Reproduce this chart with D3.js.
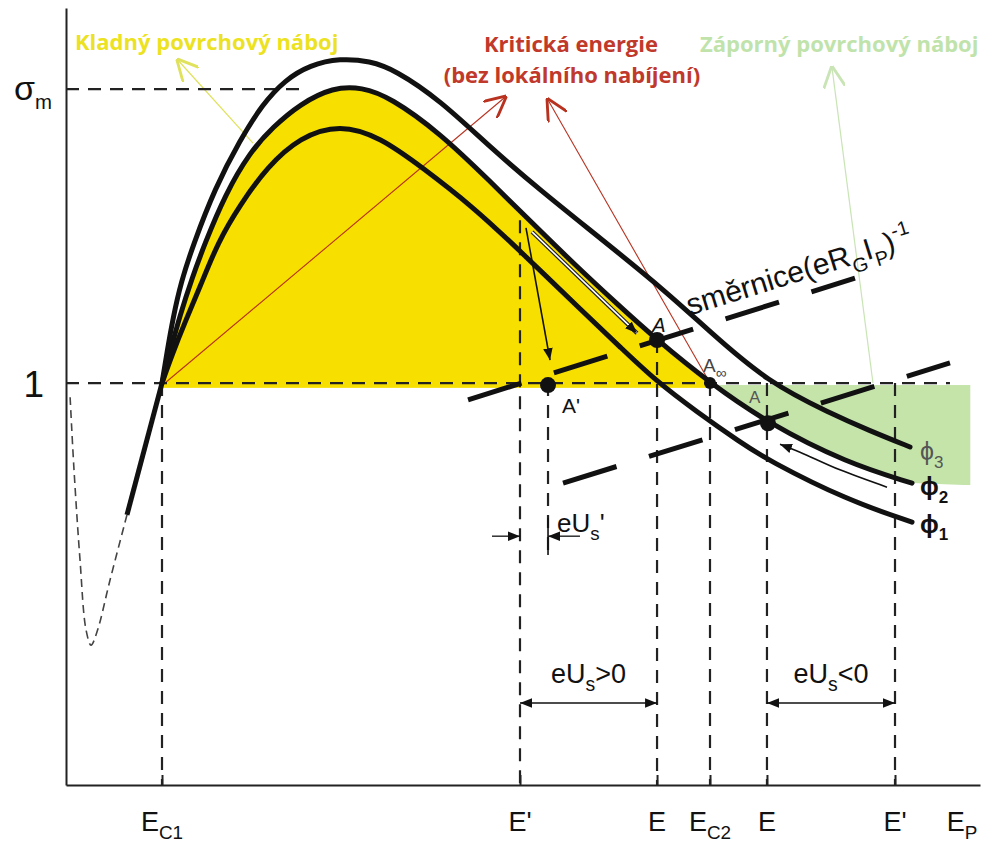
<!DOCTYPE html>
<html>
<head>
<meta charset="utf-8">
<script src="https://cdn.jsdelivr.net/npm/d3@7"></script>
<style>
body { margin: 0; background: #fff; }
svg { display: block; font-family: "Liberation Sans", Arial, sans-serif; }
</style>
</head>
<body>
<div id="chart"></div>
<script>
// sigma(E) for the three curves, E in arbitrary units (0..100), sigma relative to 1
var phi1 = [[10.55,1.000],[11.65,1.070],[13.08,1.152],[14.73,1.239],[16.70,1.351],[19.12,1.443],[22.09,1.537],[25.71,1.612],[30.11,1.644],[34.51,1.612],[39.23,1.535],[44.73,1.438],[49.56,1.336],[56.81,1.177],[60.88,1.090],[64.73,1.007],[69.34,0.928],[74.07,0.853],[77.14,0.808],[85.82,0.709],[92.97,0.654]];
var phi2 = [[10.55,1.000],[11.43,1.077],[12.53,1.169],[13.85,1.261],[15.27,1.348],[17.47,1.468],[20.22,1.575],[22.75,1.637],[25.71,1.694],[29.34,1.736],[32.53,1.736],[35.60,1.711],[41.10,1.622],[46.59,1.502],[51.32,1.396],[55.93,1.294],[60.55,1.197],[64.95,1.107],[70.77,1.000],[77.14,0.900],[85.82,0.801],[92.97,0.751]];
var phi3 = [[10.55,1.000],[11.10,1.077],[11.76,1.162],[12.64,1.251],[13.96,1.343],[16.37,1.485],[19.12,1.604],[21.54,1.692],[24.07,1.754],[26.81,1.791],[30.11,1.808],[33.41,1.801],[36.15,1.779],[41.10,1.704],[46.59,1.587],[52.09,1.480],[58.68,1.361],[66.04,1.226],[70.77,1.127],[77.14,1.002],[83.96,0.925],[88.35,0.881],[92.75,0.841]];
var lowSolid = [[10.55,1.000],[6.70,0.672]];
var lowDashed = [[6.70,0.672],[4.84,0.510],[3.41,0.381],[2.75,0.348],[2.20,0.386],[1.54,0.560],[0.88,0.784],[0.44,0.970]];

// energies on the axis
var tickE = [10.55, 49.89, 64.95, 70.77, 77.03, 91.10, 98.46];
var tickText = [["E","C1"],["E'",""],["E",""],["E","C2"],["E",""],["E'",""],["E","P"]];
var eC1 = 10.55, eP1 = 49.89, eA1 = 64.95, eC2 = 70.77, eA2 = 77.03, eP2 = 91.10, eAp = 52.97;
var sigmaM = 1.731;

// dashed verticals: [E, sigma top, sigma bottom]
var vLines = [[eC1,1.0,0],[eP1,1.405,0],[eAp,1.0,0.572],[eA1,1.107,0],[eC2,1.0,0],[eA2,1.0,0],[eP2,1.0,0]];
// working points [E, sigma, size]
var points = [[64.95,1.107,8],[52.97,0.995,8],[70.77,1.0,6],[77.14,0.900,8]];
// load lines, slope (eRG IP)^-1
var slopes = [[[44.18,0.958],[86.70,1.261]],[[54.62,0.751],[97.14,1.050]]];
// arrows
var kladnyArrow = [[20.55,1.597],[12.31,1.803]];
var kritArrows = [[[10.88,1.0],[48.24,1.711]],[[70.77,1.0],[52.97,1.704]]];
var zapornyArrow = [[88.68,1.0],[84.18,1.784]];
var dropArrow = [[50.55,1.386],[53.19,1.057]];
var slideArrow = [[51.21,1.376],[62.75,1.124]];
var backArrow = [[90.22,0.741],[85.05,0.784],[80.66,0.828],[78.46,0.848]];
var usArrows = [[eP1, eA1, ">0"], [eA2, eP2, "<0"]];
var usSigma = 0.204, usPrimeSigma = 0.619;

var width = 990, height = 845;

var x = d3.scaleLinear().domain([0, 100.44]).range([66, 980]);
var y = d3.scaleLinear().domain([0, 1.933]).range([785, 8]);

var svg = d3.select("#chart").append("svg")
	.attr("width", width)
	.attr("height", height);

var defs = svg.append("defs");
function marker(id, color, open, size) {
	var m = defs.append("marker")
		.attr("id", id)
		.attr("viewBox", "0 0 10 10")
		.attr("refX", open ? 9 : 10).attr("refY", 5)
		.attr("markerUnits", "userSpaceOnUse")
		.attr("markerWidth", size).attr("markerHeight", size)
		.attr("orient", "auto-start-reverse");
	if (open) {
		m.append("path").attr("d", "M0,0 L10,5 L0,10").attr("fill", "none")
			.attr("stroke", color).attr("stroke-width", 1.3);
	} else {
		m.append("path").attr("d", "M0,1 L10,5 L0,9 z").attr("fill", color);
	}
}
marker("ahBlack", "#111", false, 12);
marker("ahRed", "#b8321f", true, 22);
marker("ahYellow", "#dfe25a", true, 22);
marker("ahGreen", "#c9e4b5", true, 22);

// smooth curves through the read points
var line = d3.line()
	.x(function(d) { return x(d[0]); })
	.y(function(d) { return y(d[1]); })
	.curve(d3.curveBasis);
var smooth = d3.line()
	.x(function(d) { return x(d[0]); })
	.y(function(d) { return y(d[1]); })
	.curve(d3.curveCatmullRom.alpha(0.5));
var straight = d3.line()
	.x(function(d) { return x(d[0]); })
	.y(function(d) { return y(d[1]); });

// clip regions below / above curve phi2
var last = phi2[phi2.length - 1];
defs.append("clipPath").attr("id", "belowPhi2").append("path")
	.attr("d", line(phi2) + "L" + x(last[0]) + "," + y(0) + "L" + x(phi2[0][0]) + "," + y(0) + "Z");
defs.append("clipPath").attr("id", "abovePhi2").append("path")
	.attr("d", line(phi2) + "L" + x(99.4) + "," + y(0.746) + "L" + x(99.4) + "," + y(1.9) + "L" + x(phi2[0][0]) + "," + y(1.9) + "Z");

// positive charging region (yellow)
svg.append("rect")
	.attr("clip-path", "url(#belowPhi2)")
	.attr("x", x(eC1)).attr("y", y(1.9))
	.attr("width", x(eC2) - x(eC1)).attr("height", y(0.988) - y(1.9))
	.attr("fill", "#f7df00");
// negative charging region (green)
svg.append("rect")
	.attr("clip-path", "url(#abovePhi2)")
	.attr("x", x(eC2)).attr("y", y(0.995))
	.attr("width", x(99.4) - x(eC2)).attr("height", y(0.746) - y(0.995))
	.attr("fill", "#c4e4aa");

// axes
var xAxis = d3.axisBottom(x).tickValues(tickE.slice(0, 6)).tickSize(-10).tickSizeOuter(0).tickFormat("");
var yAxis = d3.axisLeft(y).tickValues([]).tickSizeOuter(0);
var gx = svg.append("g").attr("transform", "translate(0," + y(0) + ")").call(xAxis);
var gy = svg.append("g").attr("transform", "translate(" + x(0) + ",0)").call(yAxis);
gx.selectAll("path,line").attr("stroke", "#222").attr("stroke-width", 2);
gy.selectAll("path,line").attr("stroke", "#222").attr("stroke-width", 2);

// red "critical energy" lines
kritArrows.forEach(function(a) {
	svg.append("path").attr("d", straight(a))
		.attr("stroke", "#b8321f").attr("stroke-width", 1.1).attr("fill", "none")
		.attr("marker-end", "url(#ahRed)");
});
svg.append("path").attr("d", straight(kladnyArrow))
	.attr("stroke", "#dfe25a").attr("stroke-width", 1.2).attr("fill", "none")
	.attr("marker-end", "url(#ahYellow)");
svg.append("path").attr("d", straight(zapornyArrow))
	.attr("stroke", "#c9e4b5").attr("stroke-width", 1.2).attr("fill", "none")
	.attr("marker-end", "url(#ahGreen)");

// dashed guides
var dash = "13,9";
svg.append("path").attr("d", straight([[0, sigmaM], [26.26, sigmaM]]))
	.attr("stroke", "#222").attr("stroke-width", 2.2).attr("stroke-dasharray", dash);
svg.append("path").attr("d", straight([[0, 1], [97.14, 1]]))
	.attr("stroke", "#222").attr("stroke-width", 2.2).attr("stroke-dasharray", dash);
svg.selectAll(".vline").data(vLines).enter().append("path")
	.attr("class", "vline")
	.attr("d", function(d) { return straight([[d[0], d[1]], [d[0], d[2]]]); })
	.attr("stroke", "#222").attr("stroke-width", 2.2).attr("stroke-dasharray", dash);

// load lines
svg.selectAll(".slope").data(slopes).enter().append("path")
	.attr("class", "slope")
	.attr("d", function(d) { return straight(d); })
	.attr("stroke", "#111").attr("stroke-width", 5).attr("stroke-dasharray", "56,34");

// yield curves
svg.append("path").attr("d", straight(lowSolid))
	.attr("stroke", "#111").attr("stroke-width", 5).attr("fill", "none");
svg.append("path").attr("d", smooth(lowDashed))
	.attr("stroke", "#444").attr("stroke-width", 1.6).attr("fill", "none").attr("stroke-dasharray", "8,5");
[phi1, phi2, phi3].forEach(function(c) {
	svg.append("path").attr("d", line(c))
		.attr("stroke", "#111").attr("stroke-width", 5).attr("fill", "none")
		.attr("stroke-linecap", "round");
});

// black arrows
svg.append("path").attr("d", straight(dropArrow))
	.attr("stroke", "#111").attr("stroke-width", 1.6).attr("fill", "none")
	.attr("marker-end", "url(#ahBlack)");
svg.append("path").attr("d", straight(slideArrow))
	.attr("stroke", "#222").attr("stroke-width", 4).attr("fill", "none");
svg.append("path").attr("d", straight(slideArrow))
	.attr("stroke", "#fff").attr("stroke-width", 1.6).attr("fill", "none")
	.attr("marker-end", "url(#ahBlack)");
svg.append("path").attr("d", smooth(backArrow))
	.attr("stroke", "#111").attr("stroke-width", 1.6).attr("fill", "none")
	.attr("marker-end", "url(#ahBlack)");

// eUs' bracket
svg.append("path").attr("d", straight([[46.81, usPrimeSigma], [eP1, usPrimeSigma]]))
	.attr("stroke", "#111").attr("stroke-width", 1.3).attr("marker-end", "url(#ahBlack)");
svg.append("path").attr("d", straight([[56.48, usPrimeSigma], [eAp, usPrimeSigma]]))
	.attr("stroke", "#111").attr("stroke-width", 1.3).attr("marker-end", "url(#ahBlack)");
svg.append("path").attr("d", straight([[eAp, 0.665], [eAp, 0.572]]))
	.attr("stroke", "#111").attr("stroke-width", 1.6);

// eUs ranges
usArrows.forEach(function(d) {
	svg.append("path").attr("d", straight([[d[0], usSigma], [d[1], usSigma]]))
		.attr("stroke", "#111").attr("stroke-width", 1.6)
		.attr("marker-start", "url(#ahBlack)").attr("marker-end", "url(#ahBlack)");
});

// points
svg.selectAll(".pt").data(points).enter().append("circle")
	.attr("class", "pt")
	.attr("cx", function(d) { return x(d[0]); })
	.attr("cy", function(d) { return y(d[1]); })
	.attr("r", function(d) { return d[2]; })
	.attr("fill", "#111");

// text helper, parts: [text, "", "sub", "sup"]
function rich(sel, parts, size, ratio) {
	var off = 0;
	ratio = ratio || 0.68;
	parts.forEach(function(p) {
		var t = sel.append("tspan").text(p[0]);
		var target = p[1] === "sub" ? size * 0.3 : p[1] === "sup" ? -size * 0.45 : 0;
		if (p[1]) t.attr("font-size", size * ratio);
		t.attr("dy", target - off);
		off = target;
	});
	return sel;
}
function txt(e, s, anchor, size) {
	return svg.append("text").attr("x", x(e)).attr("y", y(s))
		.attr("text-anchor", anchor).attr("font-size", size).attr("fill", "#111");
}

// axis labels
tickE.forEach(function(e, i) {
	var t = svg.append("text").attr("x", x(e)).attr("y", y(0) + 46)
		.attr("text-anchor", "middle").attr("font-size", 27).attr("fill", "#111");
	rich(t, tickText[i][1] ? [[tickText[i][0], ""], [tickText[i][1], "sub"]] : [[tickText[i][0], ""]], 27, 0.7);
});
rich(svg.append("text").attr("x", x(0) - 14).attr("y", y(sigmaM) + 11)
	.attr("text-anchor", "end").attr("font-size", 34).attr("fill", "#111"),
	[["σ", ""], ["m", "sub"]], 30);
svg.append("text").attr("x", x(0) - 22).attr("y", y(1) + 14)
	.attr("text-anchor", "end").attr("font-size", 37).attr("fill", "#111").text("1");

// curve names
rich(txt(93.85, 0.808, "start", 25).attr("fill", "#555"), [["ϕ", ""], ["3", "sub"]], 25);
rich(txt(93.85, 0.721, "start", 25).attr("font-weight", "bold"), [["ϕ", ""], ["2", "sub"]], 25);
rich(txt(93.85, 0.627, "start", 25).attr("font-weight", "bold"), [["ϕ", ""], ["1", "sub"]], 25);

// point names
txt(65.16, 1.127, "middle", 20).attr("font-style", "italic").text("A");
txt(54.51, 0.925, "start", 21).text("A'");
rich(txt(70.0, 1.027, "start", 19).attr("fill", "#444"), [["A", ""], ["∞", "sub"]], 19, 0.8);
txt(75.05, 0.950, "start", 17).attr("fill", "#555").text("A");

// slope label
var sx = x(68.57), sy = y(1.168);
rich(svg.append("text").attr("x", sx).attr("y", sy)
	.attr("transform", "rotate(-17.3," + sx + "," + sy + ")")
	.attr("font-size", 30).attr("fill", "#111"),
	[["směrnice(eR", ""], ["G", "sub"], ["I", ""], ["P", "sub"], [")", ""], ["-1", "sup"]], 30, 0.66);

rich(txt(53.96, 0.629, "start", 26), [["eU", ""], ["s", "sub"], ["'", ""]], 26, 0.72);
usArrows.forEach(function(d) {
	rich(txt((d[0] + d[1]) / 2, 0.254, "middle", 27), [["eU", ""], ["s", "sub"], [d[2], ""]], 27, 0.72);
});

// coloured annotations
function note(e, s, anchor, color, str) {
	svg.append("text").attr("x", x(e)).attr("y", y(s))
		.attr("text-anchor", anchor).attr("font-size", 22).attr("font-weight", "bold")
		.attr("font-family", "'Open Sans', sans-serif").attr("fill", color).text(str);
}
note(0.99, 1.828, "start", "#ece21f", "Kladný povrchový náboj");
note(55.49, 1.823, "middle", "#c0392b", "Kritická energie");
note(55.60, 1.746, "middle", "#c0392b", "(bez lokálního nabíjení)");
note(69.67, 1.823, "start", "#bfe3aa", "Záporný povrchový náboj");
</script>
</body>
</html>
